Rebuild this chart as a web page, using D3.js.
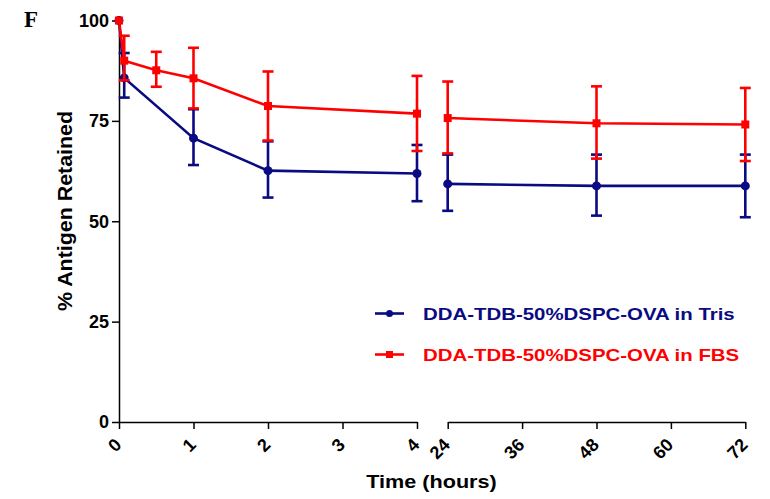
<!DOCTYPE html>
<html>
<head>
<meta charset="utf-8">
<script src="https://cdn.jsdelivr.net/npm/d3@7"></script>
<style>
  html, body { margin: 0; padding: 0; background: #fff; }
  svg { display: block; }
  text { font-family: "Liberation Sans", Arial, sans-serif; font-weight: bold; }
</style>
</head>
<body>
<svg id="chart" width="770" height="499"></svg>
<script>
// ---- Data ----
const timesTris   = [0, 0.07, 1, 2, 4, 24, 48, 72];
const meanTris    = [100, 85.7, 70.7, 62.6, 61.9, 59.3, 58.8, 58.8];
const upperTris   = [100, 91.9, 77.9, 69.9, 69.0, 66.6, 66.6, 66.6];
const lowerTris   = [100, 80.8, 64.0, 55.9, 55.0, 52.6, 51.4, 51.0];

const timesFBS    = [0, 0.07, 0.5, 1, 2, 4, 24, 48, 72];
const meanFBS     = [100, 90.0, 87.6, 85.6, 78.7, 76.8, 75.7, 74.4, 74.1];
const upperFBS    = [100, 96.2, 92.2, 93.2, 87.3, 86.2, 84.8, 83.6, 83.2];
const lowerFBS    = [100, 85.1, 83.5, 78.1, 70.1, 67.5, 66.9, 65.6, 65.0];

const leftTicks   = [0, 1, 2, 3, 4];
const rightTicks  = [24, 36, 48, 60, 72];
const yTicks      = [0, 25, 50, 75, 100];
const seriesNames = ["DDA-TDB-50%DSPC-OVA in Tris", "DDA-TDB-50%DSPC-OVA in FBS"];
const seriesColors = ["#0a0a82", "#ff0000"];

// ---- Layout ----
const svg = d3.select("#chart");
const yAxisY0 = 422, yAxisY1 = 20.5;
const y = d3.scaleLinear().domain([0, 100]).range([yAxisY0, yAxisY1]);
const xL = d3.scaleLinear().domain([0, 4]).range([119, 417]);
const xR = d3.scaleLinear().domain([24, 72]).range([447.7, 745.3]);
const xOf = t => (t <= 4 ? xL(t) : xR(t));

// ---- Axes ----
function styleAxis(g) {
  g.select(".domain").attr("stroke", "#000").attr("stroke-width", 1.5);
  g.selectAll(".tick line").attr("stroke", "#000").attr("stroke-width", 1.5);
}

const yAxis = svg.append("g")
  .attr("transform", `translate(${xL(0)},0)`)
  .call(d3.axisLeft(y).tickValues(yTicks).tickFormat(d3.format("d")).tickSize(7).tickSizeOuter(0).tickPadding(3));
styleAxis(yAxis);
yAxis.selectAll(".tick text").attr("font-size", 18)
  .style("font-family", "Liberation Sans, Arial, sans-serif").style("font-weight", "bold").attr("fill", "#000");

function xAxisSeg(scale, ticks) {
  const g = svg.append("g")
    .attr("transform", `translate(0,${yAxisY0})`)
    .call(d3.axisBottom(scale).tickValues(ticks).tickFormat(d3.format("d")).tickSize(7).tickSizeOuter(0));
  styleAxis(g);
  g.selectAll(".tick text")
    .attr("font-size", 18)
    .style("font-family", "Liberation Sans, Arial, sans-serif").style("font-weight", "bold")
    .attr("fill", "#000")
    .attr("text-anchor", "end")
    .attr("dy", null).attr("y", null)
    .attr("transform", "translate(3,24) rotate(-45)");
  return g;
}
xAxisSeg(xL, leftTicks);
xAxisSeg(xR, rightTicks);

// ---- Series ----
const series = [
  { t: timesTris, m: meanTris, up: upperTris, lo: lowerTris, color: seriesColors[0], shape: "circle" },
  { t: timesFBS,  m: meanFBS,  up: upperFBS,  lo: lowerFBS,  color: seriesColors[1], shape: "square" }
];

const line = d3.line().x(d => xOf(d.t)).y(d => y(d.m));

series.forEach(s => {
  const pts = s.t.map((t, i) => ({ t, m: s.m[i], up: s.up[i], lo: s.lo[i] }));
  const g = svg.append("g");
  const segs = [pts.filter(p => p.t <= 4), pts.filter(p => p.t > 4)];
  segs.forEach(seg => {
    g.append("path").datum(seg).attr("d", line)
      .attr("fill", "none").attr("stroke", s.color).attr("stroke-width", 2.6);
  });
  const capW = 5.5;
  pts.filter(p => p.up !== p.lo).forEach(p => {
    const cx = xOf(p.t);
    g.append("line").attr("x1", cx).attr("x2", cx).attr("y1", y(p.up)).attr("y2", y(p.lo))
      .attr("stroke", s.color).attr("stroke-width", 2.6);
    [p.up, p.lo].forEach(v => {
      g.append("line").attr("x1", cx - capW).attr("x2", cx + capW).attr("y1", y(v)).attr("y2", y(v))
        .attr("stroke", s.color).attr("stroke-width", 2.6);
    });
  });
  pts.forEach(p => {
    if (s.shape === "circle") {
      g.append("circle").attr("cx", xOf(p.t)).attr("cy", y(p.m)).attr("r", 4.5).attr("fill", s.color);
    } else {
      g.append("rect").attr("x", xOf(p.t) - 4).attr("y", y(p.m) - 4).attr("width", 8).attr("height", 8).attr("fill", s.color);
    }
  });
});

// ---- Legend ----
const legendRows = [313.5, 354.5];
seriesNames.forEach((name, i) => {
  const ly = legendRows[i];
  svg.append("line").attr("x1", 375).attr("x2", 404).attr("y1", ly).attr("y2", ly)
    .attr("stroke", seriesColors[i]).attr("stroke-width", 2.6);
  if (i === 0) {
    svg.append("circle").attr("cx", 389.5).attr("cy", ly).attr("r", 3.5).attr("fill", seriesColors[i]);
  } else {
    svg.append("rect").attr("x", 386).attr("y", ly - 3.5).attr("width", 7).attr("height", 7).attr("fill", seriesColors[i]);
  }
  const t = svg.append("text").attr("x", 423).attr("y", ly + 6)
    .attr("font-size", 17).attr("fill", seriesColors[i]).text(name);
  const w = t.node().getComputedTextLength();
  t.attr("textLength", w * 1.2).attr("lengthAdjust", "spacingAndGlyphs");
});

// ---- Titles ----
const xt = svg.append("text").attr("x", 431.5).attr("y", 488).attr("text-anchor", "middle")
  .attr("font-size", 18).attr("fill", "#000").text("Time (hours)");
xt.attr("textLength", xt.node().getComputedTextLength() * 1.2).attr("lengthAdjust", "spacingAndGlyphs");

const yt = svg.append("text").attr("transform", "translate(72,211) rotate(-90)").attr("text-anchor", "middle")
  .attr("font-size", 21).attr("fill", "#000").text("% Antigen Retained");
yt.attr("textLength", 200).attr("lengthAdjust", "spacingAndGlyphs");

svg.append("text").attr("x", 24).attr("y", 27)
  .style("font-family", "'Liberation Serif', 'Times New Roman', serif").style("font-weight", "bold")
  .attr("font-size", 23).attr("fill", "#000").text("F");
</script>
</body>
</html>
